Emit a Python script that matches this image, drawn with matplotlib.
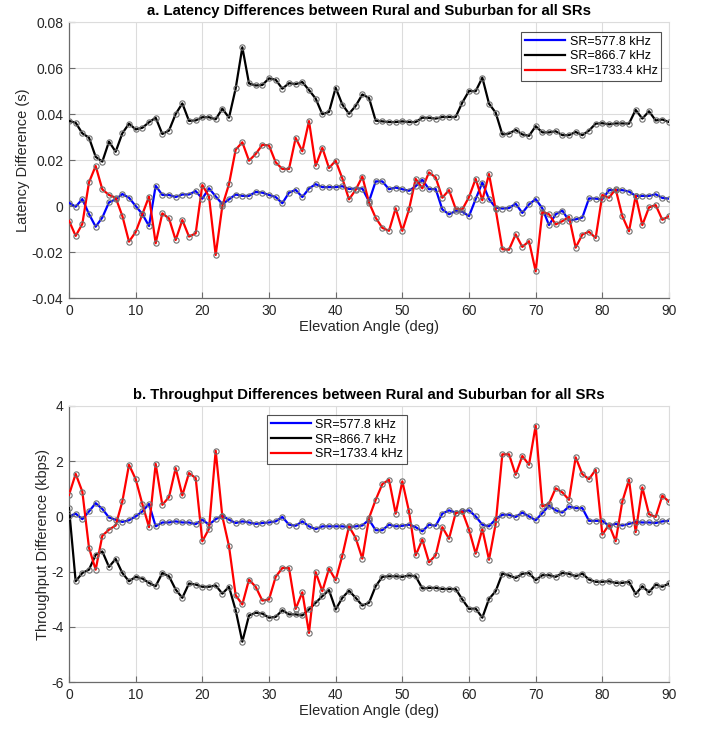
import matplotlib
matplotlib.use("Agg")
import matplotlib.pyplot as plt
import numpy as np

plt.rcParams['font.family'] = ['Liberation Sans', 'DejaVu Sans']
plt.rcParams['axes.unicode_minus'] = False

# ---------------- data ----------------
angles = list(range(0, 91))

lat_577 = [0.0014, -0.0003, 0.003, -0.0035, -0.009, -0.005, 0.0016, 0.0029, 0.0052, 0.0036,
           0.0, -0.0035, -0.0087, 0.0088, 0.0048, 0.0048, 0.0039, 0.005, 0.005, 0.0065,
           0.0032, 0.0077, 0.0042, 0.0008, 0.0029, 0.005, 0.0044, 0.0044, 0.0061, 0.0058,
           0.0048, 0.0039, 0.0012, 0.0058, 0.007, 0.0039, 0.0076, 0.0095, 0.0082, 0.0082,
           0.0082, 0.0086, 0.0074, 0.0076, 0.0076, 0.002, 0.0107, 0.0107, 0.0073, 0.008,
           0.0073, 0.0066, 0.0086, 0.0114, 0.0073, 0.0074, -0.0015, -0.0036, -0.0022, -0.0025,
           -0.0044, 0.003, 0.0102, 0.003, -0.0007, -0.0011, -0.0009, 0.001, -0.003, 0.0007,
           0.003, -0.001, -0.0083, -0.0036, -0.002, -0.0064, -0.0058, -0.005, 0.0033, 0.0032,
           0.0029, 0.0069, 0.0069, 0.0069, 0.0063, 0.0044, 0.0044, 0.0044, 0.0051, 0.0035,
           0.0032]

lat_866 = [0.037, 0.0362, 0.0316, 0.0297, 0.0214, 0.0193, 0.028, 0.0236, 0.0316, 0.0358,
           0.0333, 0.034, 0.0364, 0.0384, 0.0313, 0.0328, 0.040, 0.0446, 0.037, 0.0372,
           0.0386, 0.0386, 0.0377, 0.0423, 0.0384, 0.0511, 0.069, 0.0533, 0.0524, 0.0526,
           0.0555, 0.0549, 0.051, 0.0534, 0.053, 0.0539, 0.0504, 0.0467, 0.0399, 0.0409,
           0.0514, 0.0441, 0.0401, 0.0435, 0.0485, 0.047, 0.0371, 0.0368, 0.0365, 0.0365,
           0.0368, 0.0365, 0.0365, 0.0384, 0.0383, 0.038, 0.0387, 0.0387, 0.0387, 0.045,
           0.05, 0.0499, 0.0558, 0.0445, 0.0406, 0.0311, 0.0315, 0.0331, 0.0311, 0.0305,
           0.0347, 0.032, 0.032, 0.0325, 0.0308, 0.0308, 0.0322, 0.0308, 0.0328, 0.0358,
           0.036, 0.0355, 0.0359, 0.0359, 0.0358, 0.0418, 0.038, 0.0412, 0.0372, 0.0376,
           0.0365]

lat_1733 = [-0.0064, -0.013, -0.0078, 0.0103, 0.0174, 0.0072, 0.0048, 0.0036, -0.0043, -0.0155,
            -0.0113, -0.0036, 0.0041, -0.0162, -0.0032, -0.0054, -0.0148, -0.0061, -0.0133, -0.0119,
            0.0091, 0.0041, -0.0213, 0.0, 0.0095, 0.0245, 0.0277, 0.0197, 0.0226, 0.0266,
            0.0263, 0.019, 0.0161, 0.0161, 0.0296, 0.0238, 0.0369, 0.0175, 0.0253, 0.0165,
            0.0197, 0.012, 0.0029, 0.007, 0.0128, 0.0015, -0.0051, -0.0095, -0.0108, -0.001,
            -0.0108, -0.0015, 0.0118, 0.0077, 0.0146, 0.0124, 0.0036, 0.0069, -0.0012, -0.0015,
            0.0039, 0.0118, 0.0025, 0.0139, -0.0015, -0.0188, -0.019, -0.0123, -0.0178, -0.0153,
            -0.0284, -0.0025, -0.0036, -0.008, -0.0066, -0.0047, -0.0181, -0.0124, -0.0112, -0.0139,
            0.0048, 0.0036, 0.0073, -0.0044, -0.011, 0.0044, -0.0083, -0.0006, 0.0004, -0.006,
            -0.0044]

tp_577 = [0.0, 0.1, -0.1, 0.18, 0.48, 0.27, -0.04, -0.12, -0.2, -0.14,
          0.0, 0.18, 0.45, -0.36, -0.22, -0.22, -0.18, -0.22, -0.22, -0.28,
          -0.12, -0.3, -0.1, 0.02, -0.12, -0.24, -0.18, -0.22, -0.27, -0.24,
          -0.22, -0.18, -0.02, -0.3, -0.34, -0.18, -0.36, -0.46, -0.36, -0.36,
          -0.36, -0.36, -0.39, -0.36, -0.33, -0.12, -0.5, -0.5, -0.3, -0.36,
          -0.34, -0.3, -0.39, -0.54, -0.3, -0.34, 0.1, 0.22, 0.14, 0.18,
          0.22, 0.0, -0.3, -0.36, -0.1, 0.06, 0.06, -0.02, 0.14, 0.0,
          -0.14, 0.12, 0.39, 0.22, 0.14, 0.36, 0.3, 0.3, -0.16, -0.16,
          -0.16, -0.34, -0.27, -0.33, -0.27, -0.2, -0.22, -0.22, -0.24, -0.18,
          -0.16]

tp_866 = [0.3, -2.35, -2.05, -1.93, -1.39, -1.27, -1.83, -1.54, -2.05, -2.35,
          -2.19, -2.25, -2.41, -2.53, -2.05, -2.17, -2.65, -2.95, -2.43, -2.47,
          -2.55, -2.55, -2.5, -2.8, -2.55, -3.4, -4.54, -3.59, -3.49, -3.52,
          -3.67, -3.64, -3.4, -3.55, -3.55, -3.59, -3.37, -3.13, -2.89, -2.67,
          -3.37, -2.95, -2.69, -2.95, -3.23, -3.13, -2.53, -2.19, -2.17, -2.17,
          -2.19, -2.14, -2.17, -2.61, -2.59, -2.59, -2.63, -2.63, -2.63, -3.01,
          -3.35, -3.34, -3.67, -2.99, -2.71, -2.07, -2.14, -2.23, -2.08, -2.05,
          -2.31, -2.13, -2.13, -2.19, -2.05, -2.08, -2.17, -2.07, -2.29, -2.37,
          -2.37, -2.35, -2.41, -2.41, -2.37, -2.81, -2.53, -2.75, -2.47, -2.55,
          -2.43]

tp_1733 = [0.78, 1.54, 0.9, -1.14, -1.93, -0.7, -0.48, -0.33, 0.54, 1.87,
           1.35, 0.45, -0.39, 1.9, 0.42, 0.7, 1.75, 0.76, 1.57, 1.39,
           -0.9, -0.45, 2.38, 0.0, -1.08, -2.86, -3.19, -2.29, -2.55, -3.05,
           -3.01, -2.19, -1.87, -1.87, -3.35, -2.75, -4.22, -2.02, -2.71, -1.89,
           -2.31, -1.42, -0.36, -0.78, -1.53, -0.06, 0.6, 1.17, 1.33, 0.1,
           1.27, 0.18, -1.41, -0.84, -1.66, -1.41, -0.39, -0.81, 0.12, 0.18,
           -0.48, -1.35, -0.46, -1.57, -0.27, 2.25, 2.25, 1.51, 2.19, 1.87,
           3.29, 0.36, 0.46, 1.02, 0.87, 0.6, 2.14, 1.53, 1.35, 1.69,
           -0.66, -0.3, -0.9, 0.54, 1.33, -0.57, 1.05, 0.08, -0.02, 0.75,
           0.53]

series_labels = ['SR=577.8 kHz', 'SR=866.7 kHz', 'SR=1733.4 kHz']
series_colors = ['#0000ff', '#000000', '#ff0000']

x_ticks = [0, 10, 20, 30, 40, 50, 60, 70, 80, 90]
lat_ticks = [-0.04, -0.02, 0, 0.02, 0.04, 0.06, 0.08]
lat_ticklabels = ['-0.04', '-0.02', '0', '0.02', '0.04', '0.06', '0.08']
tp_ticks = [-6, -4, -2, 0, 2, 4]
tp_ticklabels = ['-6', '-4', '-2', '0', '2', '4']

title_a = 'a. Latency Differences between Rural and Suburban for all SRs'
title_b = 'b. Throughput Differences between Rural and Suburban for all SRs'
xlabel = 'Elevation Angle (deg)'
ylabel_a = 'Latency Difference (s)'
ylabel_b = 'Throughput Difference (kbps)'

# ---------------- figure ----------------
W, H = 704, 731
fig = plt.figure(figsize=(W / 100, H / 100), dpi=100)
ax1 = fig.add_axes([69 / W, 1 - 298 / H, 600 / W, 276 / H])
ax2 = fig.add_axes([69 / W, 1 - 682 / H, 600 / W, 276 / H])

axis_col = '#6b6b6b'
grid_col = '#dcdcdc'
text_col = '#262626'


def style(ax, yticks, yticklabels, ylim, ylabel, title):
    ax.set_xlim(0, 90)
    ax.set_ylim(*ylim)
    ax.set_xticks(x_ticks)
    ax.set_yticks(yticks)
    ax.set_yticklabels(yticklabels)
    ax.grid(True, color=grid_col, linewidth=0.8)
    ax.set_axisbelow(True)
    for s in ['top', 'right']:
        ax.spines[s].set_color(grid_col)
        ax.spines[s].set_linewidth(0.8)
    for s in ['left', 'bottom']:
        ax.spines[s].set_color(axis_col)
        ax.spines[s].set_linewidth(0.9)
    ax.tick_params(direction='in', length=4, width=0.8, color=axis_col,
                   labelsize=10, labelcolor=text_col, pad=4)
    ax.set_xlabel(xlabel, fontsize=10.5, color=text_col, labelpad=2)
    ax.set_ylabel(ylabel, fontsize=10.5, color=text_col, labelpad=1)
    ax.set_title(title, fontsize=10.7, fontweight='bold', color='black', pad=5)


def draw(ax, ys):
    handles = []
    for y, lab, col in zip(ys, series_labels, series_colors):
        h, = ax.plot(angles, y, color=col, linewidth=1.6, label=lab, zorder=3)
        ax.plot(angles, y, linestyle='none', marker='o', markersize=3.8,
                markerfacecolor='none', markeredgecolor='#707070',
                markeredgewidth=0.8, zorder=4)
        handles.append(h)
    return handles


leg_kw = dict(borderaxespad=0, fontsize=9, frameon=True, fancybox=False,
              edgecolor='#262626', handlelength=3.2, handletextpad=0.35,
              labelspacing=0.22, borderpad=0.3)

h1 = draw(ax1, [lat_577, lat_866, lat_1733])
style(ax1, lat_ticks, lat_ticklabels, (-0.04, 0.08), ylabel_a, title_a)
leg1 = ax1.legend(handles=h1, loc='upper right', bbox_to_anchor=(0.987, 0.964), **leg_kw)
leg1.get_frame().set_linewidth(0.8)

h2 = draw(ax2, [tp_577, tp_866, tp_1733])
style(ax2, tp_ticks, tp_ticklabels, (-6, 4), ylabel_b, title_b)
leg2 = ax2.legend(handles=h2, loc='upper left', bbox_to_anchor=(0.33, 0.967), **leg_kw)
leg2.get_frame().set_linewidth(0.8)

fig.savefig('out.png', dpi=100)
